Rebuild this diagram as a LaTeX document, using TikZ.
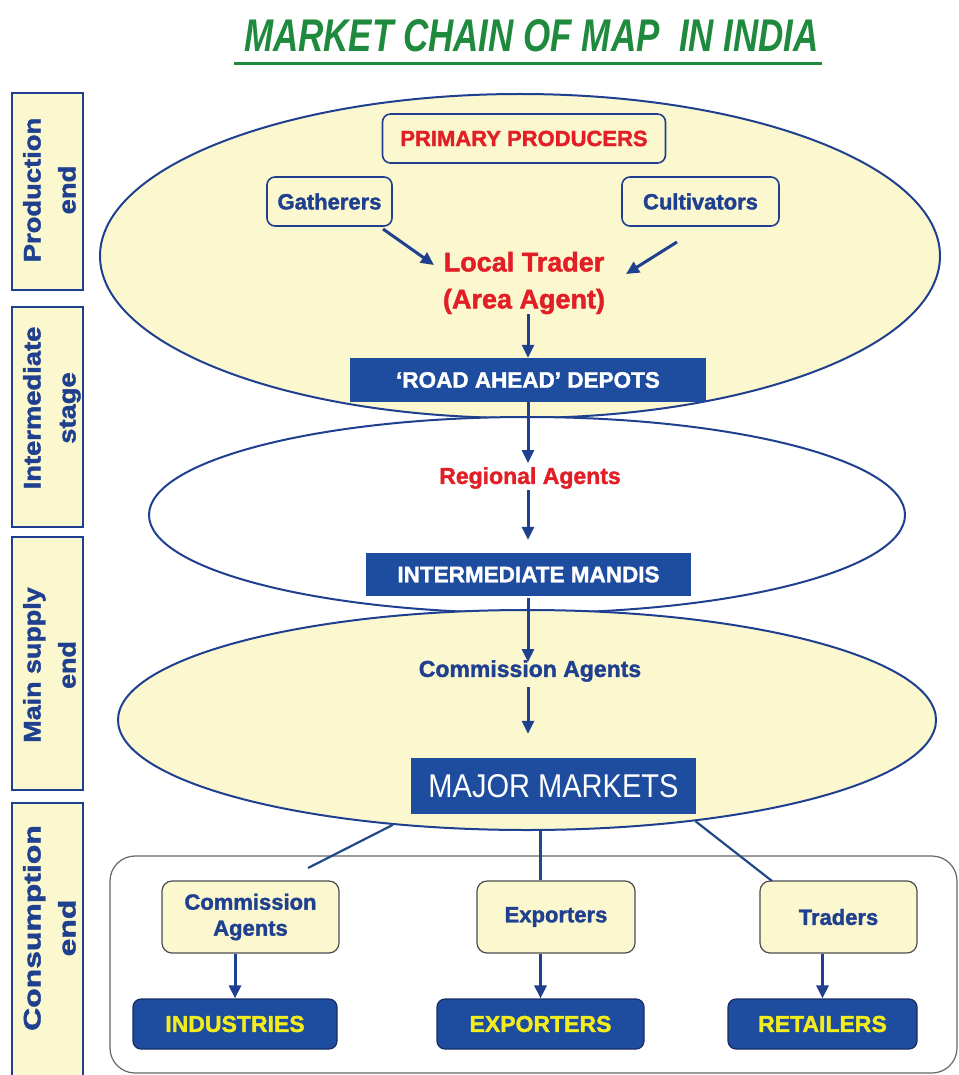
\documentclass[tikz,border=0pt]{standalone}
\usepackage{fontspec}
\setmainfont{Liberation Sans}[BoldFeatures={FakeBold=1.6}]
\usetikzlibrary{arrows.meta,shapes.geometric,calc}
\definecolor{cream}{HTML}{FBF7CF}
\definecolor{navy}{HTML}{1F3F8F}
\definecolor{dblue}{HTML}{1E4C9E}
\definecolor{redtxt}{HTML}{E21F26}
\definecolor{ytxt}{HTML}{F3EC1E}
\definecolor{titlegreen}{HTML}{1F8A3E}
\definecolor{linkblue}{HTML}{1F4A86}
\newcommand{\fsz}[2]{\fontsize{#1}{#2}\selectfont}
\begin{document}
\begin{tikzpicture}[x=1pt,y=-1pt,
  sidebox/.style={draw=navy, line width=2pt, fill=cream, minimum width=71pt, inner sep=0pt},
  sidelabel/.style={rotate=90, text=navy, inner sep=0pt, font=\fsz{24}{35}\bfseries},
  ell/.style={ellipse, draw=navy, line width=2pt, inner sep=0pt},
  ybox/.style={draw=navy, line width=1.6pt, rounded corners=8pt, fill=cream, inner sep=0pt, text=navy, font=\fsz{22}{26}\bfseries},
  bbox/.style={fill=dblue, inner sep=0pt, text=white, font=\fsz{22.5}{26}\bfseries},
  cbox/.style={draw=black!70, line width=1.2pt, rounded corners=10pt, fill=cream, inner sep=0pt, text=navy, font=\fsz{22}{26}\bfseries, align=center},
  dbox/.style={draw=navy!70!black, line width=1.2pt, rounded corners=8pt, fill=dblue, inner sep=0pt, text=ytxt, font=\fsz{23}{26}\bfseries},
  arr/.style={draw=navy, line width=3pt, -{Triangle[length=13pt,width=12pt]}},
  link/.style={draw=linkblue, line width=2.2pt}
]
\useasboundingbox (0,0) rectangle (958,1075);

% title
\node[anchor=base, text=titlegreen, inner sep=0pt] (title) at (531.5,52)
  {\resizebox{575pt}{32pt}{\bfseries\itshape MARKET CHAIN OF MAP\ \ IN INDIA}};
\draw[titlegreen, line width=3pt] (title.south west) ++(-10,11) coordinate (ulA) -- ($(title.south east)+(3,11)$) coordinate (ulB);

% side boxes
\node[sidebox, minimum height=197pt] (s1) at (47.5,191.5) {};
\node[sidebox, minimum height=220pt] (s2) at (47.5,417) {};
\node[sidebox, minimum height=253pt] (s3) at (47.5,663.5) {};
\node[sidebox, minimum height=276pt] (s4) at (47.5,941) {};
\node[sidelabel] (l1) at (51,190) {\scalebox{1.14}[1]{\begin{tabular}{@{}c@{}}Production\\end\end{tabular}}};
\node[sidelabel] (l2) at (51,408) {\scalebox{1.14}[1]{\begin{tabular}{@{}c@{}}Intermediate\\stage\end{tabular}}};
\node[sidelabel] (l3) at (51,665) {\scalebox{1.12}[1]{\begin{tabular}{@{}c@{}}Main supply\\end\end{tabular}}};
\node[sidelabel] (l4) at (51,928) {\scalebox{1.33}[1]{\begin{tabular}{@{}c@{}}Consumption\\end\end{tabular}}};

% ellipses
\node[ell, fill=cream, minimum width=840pt, minimum height=324pt] (e1) at (520,256) {};
\node[ell, fill=white, minimum width=756pt, minimum height=196pt] (e2) at (527,515) {};
\node[ell, fill=cream, minimum width=818pt, minimum height=220pt] (e3) at (527,720) {};

% production end
\node[ybox, text=redtxt, minimum width=283pt, minimum height=49pt] (pp) at (524,138.5) {PRIMARY PRODUCERS};
\node[ybox, minimum width=125pt, minimum height=49pt] (ga) at (329.5,201.5) {Gatherers};
\node[ybox, minimum width=157pt, minimum height=49pt] (cu) at (700.5,201.5) {Cultivators};
\node[text=redtxt, align=center, inner sep=0pt, font=\fsz{27}{37}\bfseries] (lt) at (524,283) {Local Trader\\(Area Agent)};
\coordinate (gaout) at (383,229);
\coordinate (ltinl) at (434,265);
\coordinate (cuout) at (677,242);
\coordinate (ltinr) at (626,274);
\draw[arr] (gaout) -- (ltinl);
\draw[arr] (cuout) -- (ltinr);

% depots
\node[bbox, minimum width=356pt, minimum height=44pt] (dp) at (528,380) {‘ROAD AHEAD’ DEPOTS};
\draw[arr] (dp.north |- lt.south) -- (dp.north);

% intermediate
\node[text=redtxt, inner sep=0pt, font=\fsz{23}{26}\bfseries] (ra) at (530,478) {Regional Agents};
\node[bbox, minimum width=325pt, minimum height=43pt] (md) at (528.5,574.5) {INTERMEDIATE MANDIS};
\draw[arr, shorten >=4pt] (dp.south) -- (dp.south |- ra.north);
\draw[arr, shorten >=13pt, shorten <=1pt] (dp.south |- ra.south) -- (dp.south |- md.north);

% main supply
\node[text=navy, inner sep=0pt, font=\fsz{23}{26}\bfseries] (ca) at (530,671) {Commission Agents};
\node[fill=dblue, inner sep=0pt, text=white, minimum width=285pt, minimum height=56pt] (mm) at (553.5,786)
  {\resizebox{250pt}{23pt}{MAJOR MARKETS}};
\draw[arr, shorten >=-2pt, shorten <=2pt] (dp.south |- md.south) -- (dp.south |- ca.north);
\draw[arr, shorten >=24pt, shorten <=5pt] (dp.south |- ca.south) -- (dp.south |- mm.north);

% consumption end
\node[draw=black!60, line width=1.2pt, rounded corners=25pt, minimum width=847pt, minimum height=217pt, inner sep=0pt] (cons) at (533.5,964.5) {};
\node[cbox, minimum width=177pt, minimum height=72pt] (cb1) at (250.5,917) {Commission\\Agents};
\node[cbox, minimum width=158pt, minimum height=72pt] (cb2) at (556,917) {Exporters};
\node[cbox, minimum width=157pt, minimum height=72pt] (cb3) at (838.5,917) {Traders};
\node[dbox, minimum width=204pt, minimum height=50pt] (d1) at (235,1024) {INDUSTRIES};
\node[dbox, minimum width=207pt, minimum height=50pt] (d2) at (540.5,1024) {EXPORTERS};
\node[dbox, minimum width=189pt, minimum height=50pt] (d3) at (822.5,1024) {RETAILERS};
\draw[arr] (d1.north |- cb1.south) -- (d1.north);
\draw[arr] (d2.north |- cb2.south) -- (d2.north);
\draw[arr] (d3.north |- cb3.south) -- (d3.north);

% links from major markets ellipse
\coordinate (lfree) at (308,868);
\coordinate (trin) at (772,881);
\draw[link] (e3.218) -- (lfree);
\draw[link] (d2.north |- e3.south) -- (d2.north |- cb2.north);
\draw[link] (e3.329) -- (trin);
\end{tikzpicture}
\end{document}
